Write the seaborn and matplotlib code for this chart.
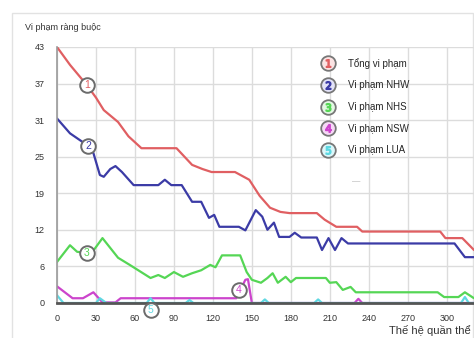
import numpy as np
import pandas as pd
import matplotlib
matplotlib.use('Agg')
import matplotlib.pyplot as plt
import seaborn as sns
from matplotlib.lines import Line2D
from matplotlib.legend_handler import HandlerTuple
from matplotlib.patches import Rectangle

# --- data ---
tong_x = [0, 10, 23, 30, 36, 47, 55, 65, 92, 104, 112, 119, 137, 148, 156, 164, 172, 179, 200,
          206, 215, 231, 235, 295, 299, 312, 321]
tong_y = [43, 40, 36.6, 34.5, 32.4, 30.4, 28, 26, 26, 23.2, 22.5, 22, 22, 20.7, 18, 16, 15.3, 15.1, 15.1,
          14, 12.8, 12.8, 12, 12, 10.9, 10.9, 8.9]

nhw_x = [0, 10, 24, 28, 33, 36, 41, 45, 50, 59, 78, 83, 88, 96, 104, 111, 117, 121, 125, 140, 145,
         153, 158, 162, 167, 171, 179, 183, 188, 200, 204, 209, 214, 219, 224, 306, 314, 321]
nhw_y = [31, 28.5, 26.4, 25.2, 21.5, 21.2, 22.5, 23, 22, 19.8, 19.8, 20.7, 19.8, 19.8, 17, 17, 14.3, 14.8, 12.8, 12.8, 12.2,
         15.6, 14.5, 12.3, 13.5, 11.1, 11.1, 11.8, 11, 11, 8.9, 10.9, 8.9, 10.9, 10, 10, 7.7, 7.7]

nhs_x = [0, 10, 15.5, 23, 28, 35, 47, 56, 64, 72, 78, 83, 90, 97, 104, 111, 118, 122, 127, 141,
         146, 150, 157, 162, 166, 170, 176, 180, 184, 207, 210, 215, 220, 226, 230, 293, 298, 309, 314, 321]
nhs_y = [6.9, 9.7, 8.6, 8.4, 8.8, 10.9, 7.6, 6.4, 5.3, 4.2, 4.7, 4.2, 5.2, 4.4, 5, 5.5, 6.4, 6, 8, 8,
         5.2, 3.9, 3.4, 4.2, 5, 3.4, 4.4, 3.5, 4.2, 4.2, 3.4, 3.5, 2.2, 2.7, 1.8, 1.8, 1, 1, 1.8, 0.8]

nsw_x = [0, 12, 20, 28, 35, 45, 49, 138, 145, 147, 150, 229, 232, 235, 321]
nsw_y = [2.8, 0.8, 0.8, 1.8, 0.1, 0.1, 0.8, 0.8, 3.9, 4.0, 0, 0, 0.7, 0, 0]

lua_x = [0, 5, 30, 33, 38, 69, 72, 75, 99, 102, 105, 157, 160, 163, 198, 201, 204, 311, 314, 317, 321]
lua_y = [1.3, 0, 0, 0.8, 0, 0, 0.8, 0, 0, 0.5, 0, 0, 0.6, 0, 0, 0.6, 0, 0, 1, 0, 0]

labels = ['Tổng vi phạm', 'Vi phạm NHW', 'Vi phạm NHS', 'Vi phạm NSW', 'Vi phạm LUA']
colors = ['#e05f62', '#3b3ba6', '#55d655', '#cc44cc', '#5fd8e2']
light = ['#fbe3e3', '#e2e2f8', '#e3f8e3', '#f6d8f6', '#dcf7fa']
badge_x = [23, 24, 23, 140, 72]
badge_y = [36.6, 26.4, 8.4, 2.2, -1.2]

y_ticks = [0, 6, 12, 19, 25, 31, 37, 43]
x_ticks = [0, 30, 60, 90, 120, 150, 180, 210, 240, 270, 300]

sns.set_style('white')
plt.rcParams['font.family'] = ['Liberation Sans', 'DejaVu Sans']

fig = plt.figure(figsize=(4.74, 3.38), dpi=100)
fig.patches.append(Rectangle((12 / 474, -0.01), 461 / 474, 1 - 13 / 338 + 0.01, transform=fig.transFigure,
                             facecolor='white', edgecolor='#e2e2e2', lw=1, zorder=-5))
ax = fig.add_axes([57 / 474, 35 / 338, 417 / 474, 256 / 338])
ax.patch.set_alpha(0)

series = [(tong_x, tong_y), (nhw_x, nhw_y), (nhs_x, nhs_y), (nsw_x, nsw_y), (lua_x, lua_y)]
for (xs, ys), c in zip(series, colors):
    sns.lineplot(x=xs, y=ys, color=c, lw=1.6, ax=ax, zorder=2)

for i in range(5):
    ax.plot(badge_x[i], badge_y[i], 'o', ms=10.5, mfc='white', mec='#6b6b6b', mew=1.4,
            clip_on=False, zorder=6)
    ax.text(badge_x[i], badge_y[i], str(i + 1), color=colors[i], fontsize=7.5, ha='center',
            va='center', zorder=7, clip_on=False)

ax.set_xlim(0, 321)
ax.set_ylim(0, 43)
ax.set_xticks(x_ticks)
ax.set_xticklabels([str(v) for v in x_ticks])
ax.set_yticks(np.linspace(0, 43, len(y_ticks)))
ax.set_yticklabels([str(v) for v in y_ticks])
ax.grid(True, color='#dcdcdc', lw=1)
ax.tick_params(length=0, labelsize=6.5, labelcolor='#333333')
ax.tick_params(axis='y', pad=9)
ax.tick_params(axis='x', pad=8)
for s in ['top', 'right']:
    ax.spines[s].set_visible(False)
ax.spines['left'].set_color('#9a9a9a')
ax.spines['left'].set_linewidth(1.2)
ax.spines['bottom'].set_color('#555555')
ax.spines['bottom'].set_linewidth(2)

handles = []
for i in range(5):
    circ = Line2D([], [], marker='o', ls='', ms=10.5, mfc=light[i], mec='#777777', mew=1.3)
    num = Line2D([], [], marker='$%d$' % (i + 1), ls='', ms=5.5, color=colors[i], mec=colors[i])
    handles.append((circ, num))
ax.legend(handles, labels, handler_map={tuple: HandlerTuple(ndivide=1)}, frameon=False,
          loc='upper left', bbox_to_anchor=(316 / 474, 1 - 53 / 338), bbox_transform=fig.transFigure,
          fontsize=7, labelspacing=1.2, handletextpad=1.3, handlelength=1.5, borderpad=0)

fig.text(25 / 474, 1 - 28 / 338, 'Vi phạm ràng buộc', fontsize=6.5, color='#333333', va='center')
fig.text(352 / 474, 1 - 182 / 338, '—', fontsize=6, color='#aaaaaa', va='center')
fig.text(389 / 474, 1 - 330 / 338, 'Thế hệ quần thể', fontsize=8, color='#333333', va='center')

fig.savefig('out.png', dpi=100)
